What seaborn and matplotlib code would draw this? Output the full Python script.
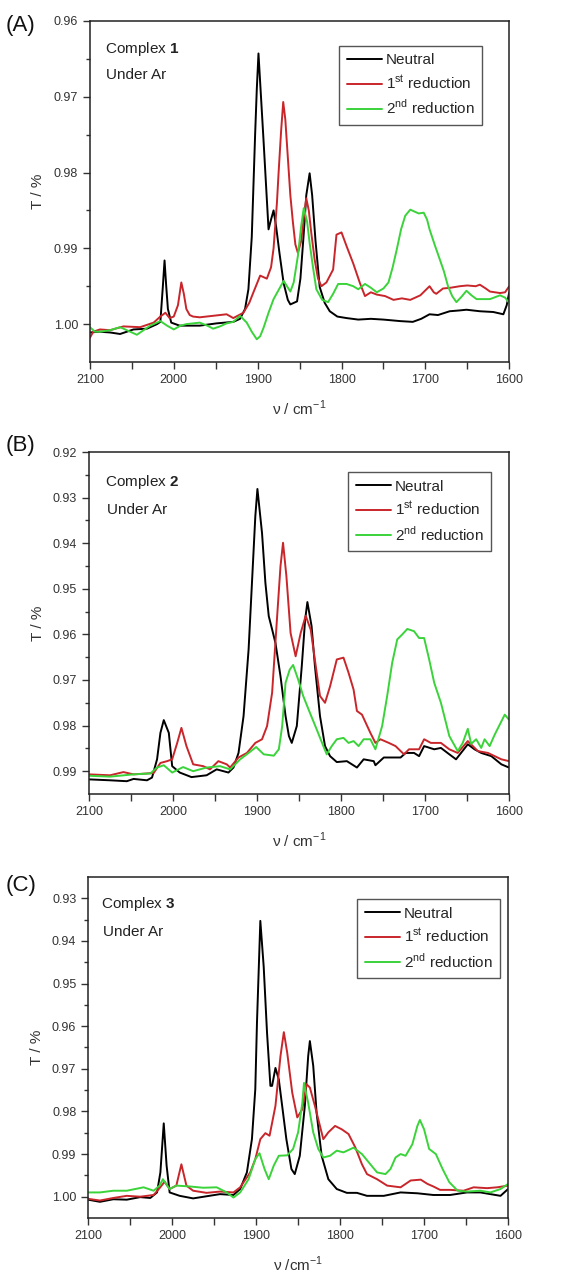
import numpy as np
import pandas as pd
import matplotlib
matplotlib.use('Agg')
import matplotlib.pyplot as plt
import seaborn as sns

a_neutral = np.array([
    (2100, 1.0011), (2088, 1.0010), (2076, 1.0011), (2064, 1.0013), (2048, 1.0007),
    (2032, 1.0006), (2020, 1.0000), (2016, 0.9997), (2013, 0.9950), (2011, 0.9916),
    (2009, 0.9950), (2007, 0.9980), (2003, 0.9998), (1993, 1.0002), (1969, 1.0002),
    (1949, 0.9999), (1929, 0.9997), (1921, 0.9993), (1915, 0.9980), (1911, 0.9954),
    (1907, 0.9885), (1903, 0.9750), (1901, 0.9690), (1899, 0.9643), (1896, 0.9700),
    (1893, 0.9757), (1889, 0.9836), (1887, 0.9875), (1884, 0.9862), (1881, 0.9850),
    (1878, 0.9871), (1874, 0.9906), (1869, 0.9946), (1864, 0.9968), (1861, 0.9974),
    (1857, 0.9972), (1853, 0.9970), (1849, 0.9940), (1845, 0.9880), (1842, 0.9830),
    (1838, 0.9801), (1835, 0.9830), (1831, 0.9890), (1826, 0.9951), (1820, 0.9972),
    (1814, 0.9983), (1805, 0.9990), (1794, 0.9992), (1780, 0.9994), (1765, 0.9993),
    (1750, 0.9994), (1730, 0.9996), (1715, 0.9997), (1705, 0.9993), (1695, 0.9987),
    (1685, 0.9988), (1671, 0.9983), (1660, 0.9982), (1651, 0.9981), (1635, 0.9983),
    (1619, 0.9984), (1607, 0.9987), (1603, 0.9975), (1600, 0.9958)])

a_red1 = np.array([
    (2100, 1.0018), (2096, 1.0010), (2088, 1.0007), (2076, 1.0008), (2060, 1.0003),
    (2040, 1.0004), (2024, 0.9998), (2016, 0.9990), (2010, 0.9985), (2005, 0.9992),
    (2000, 0.9990), (1995, 0.9975), (1991, 0.9945), (1988, 0.9960), (1985, 0.9980),
    (1981, 0.9988), (1977, 0.9990), (1969, 0.9991), (1953, 0.9989), (1937, 0.9987),
    (1929, 0.9992), (1917, 0.9985), (1910, 0.9972), (1905, 0.9958), (1897, 0.9936),
    (1889, 0.9940), (1884, 0.9925), (1881, 0.9900), (1877, 0.9840), (1875, 0.9800),
    (1872, 0.9745), (1869.5, 0.9707), (1867, 0.9730), (1864, 0.9780), (1861, 0.9830),
    (1858, 0.9865), (1855, 0.9895), (1852, 0.9906), (1848, 0.9890), (1845, 0.9860),
    (1842, 0.9834), (1839, 0.9850), (1836, 0.9880), (1832, 0.9915), (1828, 0.9940),
    (1824, 0.9950), (1818, 0.9945), (1810, 0.9928), (1806, 0.9882), (1800, 0.9879),
    (1794, 0.9897), (1786, 0.9920), (1778, 0.9946), (1772, 0.9963), (1765, 0.9958),
    (1758, 0.9961), (1748, 0.9963), (1738, 0.9968), (1728, 0.9966), (1718, 0.9968),
    (1706, 0.9962), (1695, 0.9950), (1690, 0.9958), (1687, 0.9960), (1679, 0.9953),
    (1670, 0.9952), (1659, 0.9950), (1650, 0.9949), (1640, 0.9950), (1635, 0.9948),
    (1628, 0.9953), (1623, 0.9957), (1611, 0.9959), (1605, 0.9958), (1600, 0.9950)])

a_red2 = np.array([
    (2100, 1.0004), (2094, 1.0010), (2088, 1.0010), (2076, 1.0008), (2064, 1.0004),
    (2054, 1.0009), (2044, 1.0014), (2036, 1.0008), (2028, 1.0002), (2016, 0.9996),
    (2008, 1.0002), (2000, 1.0007), (1992, 1.0002), (1985, 1.0000), (1969, 0.9998),
    (1960, 1.0002), (1953, 1.0006), (1945, 1.0003), (1937, 0.9999), (1929, 0.9997),
    (1921, 0.9989), (1913, 0.9998), (1907, 1.0010), (1901, 1.0020), (1897, 1.0016),
    (1893, 1.0005), (1887, 0.9985), (1881, 0.9967), (1875, 0.9955), (1869, 0.9943),
    (1865, 0.9950), (1861, 0.9957), (1857, 0.9945), (1852, 0.9910), (1848, 0.9870),
    (1845, 0.9847), (1841, 0.9865), (1838, 0.9893), (1834, 0.9925), (1830, 0.9954),
    (1823, 0.9968), (1816, 0.9971), (1810, 0.9960), (1804, 0.9947), (1794, 0.9947),
    (1786, 0.9950), (1780, 0.9954), (1772, 0.9947), (1765, 0.9952), (1758, 0.9958),
    (1750, 0.9953), (1744, 0.9945), (1739, 0.9925), (1734, 0.9901), (1729, 0.9875),
    (1724, 0.9857), (1718, 0.9849), (1712, 0.9852), (1708, 0.9854), (1702, 0.9853),
    (1698, 0.9862), (1695, 0.9875), (1689, 0.9895), (1683, 0.9914), (1678, 0.9930),
    (1673, 0.9950), (1668, 0.9963), (1663, 0.9971), (1657, 0.9964), (1651, 0.9956),
    (1645, 0.9962), (1639, 0.9967), (1630, 0.9967), (1623, 0.9967), (1611, 0.9962),
    (1605, 0.9965), (1600, 0.9972)])

b_neutral = np.array([
    (2100, 0.9918), (2075, 0.9920), (2055, 0.9922), (2047, 0.9917), (2031, 0.9920),
    (2025, 0.9914), (2019, 0.9874), (2015, 0.9816), (2011, 0.9788), (2005, 0.9816),
    (2001, 0.9889), (1992, 0.9903), (1978, 0.9913), (1960, 0.9909), (1948, 0.9896),
    (1934, 0.9903), (1928, 0.9892), (1922, 0.9860), (1916, 0.9779), (1910, 0.9633),
    (1906, 0.9487), (1902, 0.9341), (1899.5, 0.9281), (1894, 0.9378), (1890, 0.9487),
    (1886, 0.9560), (1882, 0.9589), (1878, 0.9619), (1872, 0.9692), (1866, 0.9779),
    (1862, 0.9823), (1858.6, 0.9838), (1852.6, 0.9801), (1846.7, 0.9670), (1842.7, 0.9568),
    (1840, 0.9529), (1835, 0.9582), (1831, 0.9670), (1825, 0.9779), (1819, 0.9845),
    (1813, 0.9867), (1805, 0.9880), (1793, 0.9878), (1781, 0.9892), (1773, 0.9874),
    (1761, 0.9878), (1759, 0.9887), (1749, 0.9870), (1729, 0.9870), (1723, 0.9860),
    (1713, 0.9860), (1707, 0.9867), (1701, 0.9845), (1689, 0.9852), (1681, 0.9849),
    (1671, 0.9863), (1663, 0.9874), (1649, 0.9841), (1641, 0.9852), (1633, 0.9860),
    (1621, 0.9867), (1609, 0.9885), (1600, 0.9892)])

b_red1 = np.array([
    (2100, 0.9907), (2075, 0.9909), (2059, 0.9902), (2047, 0.9907), (2031, 0.9905),
    (2023, 0.9904), (2015, 0.9882), (2007, 0.9878), (2001, 0.9874), (1995, 0.9838),
    (1990, 0.9805), (1984, 0.9845), (1976, 0.9885), (1964, 0.9889), (1956, 0.9896),
    (1946, 0.9878), (1936, 0.9885), (1932, 0.9892), (1922, 0.9870), (1912, 0.9860),
    (1902, 0.9838), (1894, 0.9830), (1888, 0.9801), (1882, 0.9728), (1876, 0.9560),
    (1872, 0.9450), (1869, 0.9399), (1865, 0.9472), (1860, 0.9597), (1854, 0.9648),
    (1848, 0.9597), (1842, 0.9559), (1836, 0.9590), (1830, 0.9670), (1825, 0.9735),
    (1819, 0.9750), (1813, 0.9714), (1805, 0.9655), (1797, 0.9651), (1791, 0.9684),
    (1785, 0.9721), (1781, 0.9768), (1775, 0.9776), (1765, 0.9816), (1759, 0.9838),
    (1753, 0.9830), (1743, 0.9838), (1735, 0.9845), (1725, 0.9863), (1719, 0.9852),
    (1707, 0.9852), (1701, 0.9830), (1693, 0.9838), (1681, 0.9838), (1671, 0.9852),
    (1661, 0.9860), (1649, 0.9834), (1637, 0.9856), (1625, 0.9860), (1617, 0.9867),
    (1609, 0.9874), (1600, 0.9878)])

b_red2 = np.array([
    (2100, 0.9910), (2075, 0.9912), (2047, 0.9907), (2027, 0.9905), (2019, 0.9892),
    (2011, 0.9887), (2001, 0.9903), (1988, 0.9891), (1976, 0.9900), (1960, 0.9892),
    (1944, 0.9889), (1932, 0.9896), (1920, 0.9874), (1910, 0.9860), (1901, 0.9847),
    (1892, 0.9863), (1880, 0.9866), (1874, 0.9852), (1870, 0.9801), (1866, 0.9706),
    (1861, 0.9677), (1857, 0.9667), (1851, 0.9699), (1845, 0.9735), (1837, 0.9772),
    (1829, 0.9808), (1821, 0.9845), (1817, 0.9863), (1811, 0.9845), (1805, 0.9830),
    (1797, 0.9827), (1791, 0.9838), (1785, 0.9834), (1779, 0.9845), (1773, 0.9830),
    (1765, 0.9830), (1759, 0.9852), (1751, 0.9801), (1745, 0.9735), (1739, 0.9662),
    (1733, 0.9611), (1727, 0.9600), (1721, 0.9588), (1713, 0.9593), (1707, 0.9608),
    (1701, 0.9608), (1695, 0.9655), (1689, 0.9706), (1681, 0.9750), (1671, 0.9823),
    (1661, 0.9856), (1655, 0.9838), (1649, 0.9807), (1645, 0.9840), (1639, 0.9830),
    (1633, 0.9849), (1629, 0.9830), (1623, 0.9845), (1617, 0.9820), (1611, 0.9798),
    (1605, 0.9776), (1600, 0.9787)])

c_neutral = np.array([
    (2100, 1.0007), (2086, 1.0012), (2070, 1.0006), (2054, 1.0007), (2038, 1.0001),
    (2026, 1.0003), (2018, 0.9990), (2014, 0.9943), (2010, 0.9828), (2006.6, 0.9927),
    (2003, 0.9990), (1991, 0.9998), (1975, 1.0004), (1959, 0.9999), (1943, 0.9994),
    (1927, 0.9996), (1919, 0.9982), (1911, 0.9943), (1905, 0.9865), (1901, 0.9748),
    (1899, 0.9592), (1896, 0.9413), (1895, 0.9353), (1891, 0.9460), (1887, 0.9616),
    (1883, 0.9740), (1881, 0.9740), (1877, 0.9698), (1873, 0.9725), (1869, 0.9787),
    (1864, 0.9865), (1858, 0.9935), (1854, 0.9947), (1848, 0.9904), (1842, 0.9787),
    (1838, 0.9670), (1836, 0.9635), (1832, 0.9693), (1828, 0.9803), (1822, 0.9904),
    (1814, 0.9959), (1804, 0.9982), (1792, 0.9991), (1780, 0.9991), (1768, 0.9998),
    (1748, 0.9998), (1728, 0.9990), (1708, 0.9992), (1689, 0.9996), (1669, 0.9996),
    (1649, 0.9990), (1633, 0.9990), (1621, 0.9994), (1609, 0.9998), (1600, 0.9982)])

c_red1 = np.array([
    (2100, 1.0005), (2086, 1.0009), (2070, 1.0003), (2054, 0.9998), (2038, 1.0000),
    (2022, 0.9996), (2015, 0.9980), (2009, 0.9965), (2003, 0.9982), (1995, 0.9974),
    (1989, 0.9924), (1983, 0.9974), (1975, 0.9986), (1959, 0.9991), (1943, 0.9988),
    (1927, 0.9990), (1919, 0.9978), (1907, 0.9943), (1901, 0.9912), (1895, 0.9865),
    (1889, 0.9851), (1884, 0.9857), (1877, 0.9787), (1871, 0.9670), (1867, 0.9614),
    (1863, 0.9662), (1857, 0.9756), (1851, 0.9814), (1845, 0.9795), (1840, 0.9736),
    (1836, 0.9744), (1830, 0.9787), (1824, 0.9834), (1820, 0.9865), (1814, 0.9849),
    (1806, 0.9834), (1798, 0.9842), (1790, 0.9853), (1782, 0.9884), (1774, 0.9924),
    (1768, 0.9947), (1756, 0.9959), (1744, 0.9974), (1728, 0.9978), (1716, 0.9962),
    (1704, 0.9960), (1696, 0.9970), (1689, 0.9976), (1681, 0.9984), (1669, 0.9984),
    (1653, 0.9986), (1641, 0.9978), (1625, 0.9980), (1613, 0.9978), (1600, 0.9974)])

c_red2 = np.array([
    (2100, 0.9990), (2086, 0.9990), (2070, 0.9986), (2054, 0.9986), (2034, 0.9978),
    (2022, 0.9986), (2015, 0.9974), (2011, 0.9959), (2003, 0.9982), (1995, 0.9974),
    (1979, 0.9976), (1963, 0.9979), (1947, 0.9978), (1935, 0.9990), (1927, 1.0002),
    (1919, 0.9990), (1909, 0.9959), (1901, 0.9912), (1896, 0.9898), (1890, 0.9935),
    (1885, 0.9959), (1879, 0.9927), (1873, 0.9904), (1863, 0.9903), (1856, 0.9888),
    (1850, 0.9849), (1845, 0.9780), (1843, 0.9733), (1838, 0.9780), (1832, 0.9849),
    (1826, 0.9888), (1820, 0.9908), (1812, 0.9904), (1804, 0.9892), (1796, 0.9896),
    (1784, 0.9885), (1774, 0.9900), (1764, 0.9924), (1756, 0.9943), (1746, 0.9947),
    (1740, 0.9935), (1734, 0.9908), (1728, 0.9900), (1722, 0.9904), (1714, 0.9877),
    (1708, 0.9834), (1705, 0.9820), (1700, 0.9842), (1694, 0.9888), (1686, 0.9900),
    (1678, 0.9935), (1670, 0.9966), (1660, 0.9986), (1649, 0.9988), (1633, 0.9986),
    (1621, 0.9990), (1609, 0.9982), (1600, 0.9970)])

series_names = ['Neutral', '1$^{\\mathrm{st}}$ reduction', '2$^{\\mathrm{nd}}$ reduction']
series_colors = ['#000000', '#c8262b', '#3ad33a']
complex_labels = ['Complex $\\mathbf{1}$', 'Complex $\\mathbf{2}$', 'Complex $\\mathbf{3}$']
panel_tags = ['(A)', '(B)', '(C)']
x_labels = ['ν / cm$^{-1}$', 'ν / cm$^{-1}$', 'ν /cm$^{-1}$']
y_limits = [(1.005, 0.96), (0.995, 0.92), (1.005, 0.925)]
y_ticks = [np.arange(0.96, 1.0001, 0.01), np.arange(0.92, 0.9901, 0.01), np.arange(0.93, 1.0001, 0.01)]

panels = [(a_neutral, a_red1, a_red2), (b_neutral, b_red1, b_red2), (c_neutral, c_red1, c_red2)]

sns.set_style('ticks')
plt.rcParams['font.family'] = ['Liberation Sans', 'DejaVu Sans']
plt.rcParams['mathtext.fontset'] = 'custom'
plt.rcParams['mathtext.rm'] = 'Liberation Sans'
plt.rcParams['mathtext.bf'] = 'Liberation Sans:bold'

fig = plt.figure(figsize=(5.8, 12.73), dpi=100)

# axes boxes in figure fractions (left, bottom, width, height)
boxes = [(0.155, 0.7156, 0.723, 0.268), (0.1535, 0.3763, 0.724, 0.2686), (0.152, 0.0432, 0.724, 0.2679)]
legend_anchor = [(0.594, 0.927), (0.617, 0.942), (0.64, 0.935)]
text_pos = [((0.036, 0.918), (0.038, 0.842)), ((0.038, 0.912), (0.043, 0.83)), ((0.031, 0.921), (0.036, 0.839))]
tag_y = [1 - 26 / 1273, 1 - 445 / 1273, 1 - 885 / 1273]

for i, curves in enumerate(panels):
    ax = fig.add_axes(boxes[i])
    frames = []
    for name, arr in zip(series_names, curves):
        frames.append(pd.DataFrame({'nu': arr[:, 0], 'T': arr[:, 1], 'series': name}))
    df = pd.concat(frames, ignore_index=True)
    sns.lineplot(data=df, x='nu', y='T', hue='series', hue_order=series_names,
                 palette=dict(zip(series_names, series_colors)), estimator=None,
                 sort=False, linewidth=1.4, ax=ax)

    ax.set_xlim(2100, 1600)
    ax.set_ylim(*y_limits[i])
    ax.set_xticks(np.arange(2100, 1599, -100))
    ax.set_xticks(np.arange(2050, 1600, -100), minor=True)
    ax.set_yticks(y_ticks[i])
    ax.set_yticklabels([f'{t:.2f}' for t in y_ticks[i]])
    ax.set_yticks(y_ticks[i][:-1] + 0.005, minor=True)
    ax.tick_params(axis='both', which='major', direction='out', length=5, width=1,
                   labelsize=9, labelcolor='#333333', color='#333333')
    ax.tick_params(axis='x', which='minor', direction='out', length=5, width=1, color='#333333')
    ax.tick_params(axis='y', which='minor', direction='out', length=3, width=1, color='#333333')
    for s in ax.spines.values():
        s.set_visible(True)
        s.set_linewidth(1.1)
        s.set_color('#222222')

    ax.set_xlabel(x_labels[i], fontsize=11, color='#333333', labelpad=9)
    ax.set_ylabel('T / %', fontsize=11, color='#333333', labelpad=6)

    h, l = ax.get_legend_handles_labels()
    leg = ax.legend(h, l, loc='upper left', bbox_to_anchor=legend_anchor[i], borderaxespad=0,
                    fontsize=11, frameon=True, fancybox=False, framealpha=1,
                    edgecolor='#555555', handlelength=2.3, handletextpad=0.25,
                    labelspacing=0.42, borderpad=0.5)
    leg.get_frame().set_linewidth(1.0)

    (tx1, ty1), (tx2, ty2) = text_pos[i]
    ax.text(tx1, ty1, complex_labels[i], transform=ax.transAxes, fontsize=11,
            va='center', ha='left', color='#222222')
    ax.text(tx2, ty2, 'Under Ar', transform=ax.transAxes, fontsize=11,
            va='center', ha='left', color='#222222')

    fig.text(0.01, tag_y[i], panel_tags[i], fontsize=16, va='center', ha='left', color='#111111')

fig.savefig('out.png', dpi=100)
